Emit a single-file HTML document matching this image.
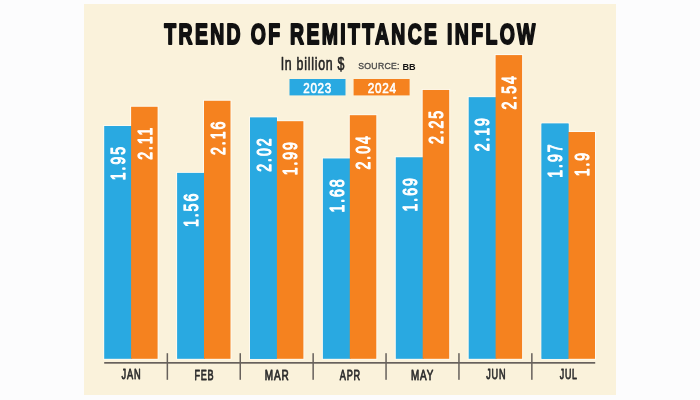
<!DOCTYPE html>
<html><head><meta charset="utf-8"><style>
html,body{margin:0;padding:0;background:#fcfcfd;width:700px;height:400px;overflow:hidden}
svg{display:block;filter:blur(0.3px);font-family:"Liberation Sans",sans-serif}
</style></head><body>
<svg width="700" height="400" viewBox="0 0 700 400">
<rect x="84" y="4" width="532" height="391" fill="#faf2db"/>
<text transform="matrix(0.5881 0 0 0.8941 164.34 44.06)" font-size="33" font-weight="bold" letter-spacing="4" fill="#111" stroke="#111" stroke-width="2.2" stroke-linejoin="round">TREND OF REMITTANCE INFLOW</text>
<text transform="matrix(0.7281 0 0 1.1018 280.69 69.85)" font-size="17" font-weight="normal" letter-spacing="1" fill="#222" stroke="#222" stroke-width="0.6" stroke-linejoin="round">In billion $</text>
<text transform="matrix(0.9643 0 0 0.9333 358.26 69.27)" font-size="9" font-weight="normal" letter-spacing="0.3" fill="#4a4a4a" stroke="#4a4a4a" stroke-width="0.35" stroke-linejoin="round">SOURCE:</text>
<text transform="matrix(1.0167 0 0 1.0080 402.49 69.50)" font-size="9" font-weight="bold" letter-spacing="0" fill="#111">BB</text>
<text transform="matrix(0.6584 0 0 0.9905 121.56 379.30)" font-size="14" font-weight="normal" letter-spacing="1.2" fill="#2d2d2d" stroke="#2d2d2d" stroke-width="0.8" stroke-linejoin="round">JAN</text>
<text transform="matrix(0.6491 0 0 1.0146 194.41 379.55)" font-size="14" font-weight="normal" letter-spacing="1.2" fill="#2d2d2d" stroke="#2d2d2d" stroke-width="0.8" stroke-linejoin="round">FEB</text>
<text transform="matrix(0.7138 0 0 1.0146 264.76 379.55)" font-size="14" font-weight="normal" letter-spacing="1.2" fill="#2d2d2d" stroke="#2d2d2d" stroke-width="0.8" stroke-linejoin="round">MAR</text>
<text transform="matrix(0.6528 0 0 1.0146 339.86 379.55)" font-size="14" font-weight="normal" letter-spacing="1.2" fill="#2d2d2d" stroke="#2d2d2d" stroke-width="0.8" stroke-linejoin="round">APR</text>
<text transform="matrix(0.7032 0 0 1.0146 411.07 379.55)" font-size="14" font-weight="normal" letter-spacing="1.2" fill="#2d2d2d" stroke="#2d2d2d" stroke-width="0.8" stroke-linejoin="round">MAY</text>
<text transform="matrix(0.6483 0 0 0.9905 486.26 379.30)" font-size="14" font-weight="normal" letter-spacing="1.2" fill="#2d2d2d" stroke="#2d2d2d" stroke-width="0.8" stroke-linejoin="round">JUN</text>
<text transform="matrix(0.6327 0 0 0.9905 559.76 379.30)" font-size="14" font-weight="normal" letter-spacing="1.2" fill="#2d2d2d" stroke="#2d2d2d" stroke-width="0.8" stroke-linejoin="round">JUL</text>
<rect x="289.5" y="79" width="56" height="16.4" fill="#29a9e1"/>
<rect x="353.6" y="79" width="56" height="16.4" fill="#f5821f"/>
<text transform="matrix(0.7258 0 0 0.9167 303.24 92.54)" font-size="16" font-weight="normal" letter-spacing="1" fill="#fff" stroke="#fff" stroke-width="0.7" stroke-linejoin="round">2023</text>
<text transform="matrix(0.7368 0 0 0.9167 367.63 92.54)" font-size="16" font-weight="normal" letter-spacing="1" fill="#fff" stroke="#fff" stroke-width="0.7" stroke-linejoin="round">2024</text>
<path d="M103.20,358.80V125.01H130.10V105.78H158.60V359.80H103.20Z" fill="#fdfaf0"/>
<rect x="104.20" y="126.01" width="27.9" height="232.79" fill="#29a9e1"/>
<rect x="131.10" y="106.78" width="26.5" height="252.02" fill="#f5821f"/>
<text transform="translate(124.97,180.16) rotate(-90) scale(0.6545,0.9091)" font-size="21.5" font-weight="normal" letter-spacing="3" stroke="#fff" stroke-width="1.3" stroke-linejoin="round" fill="#fff">1.95</text>
<text transform="translate(151.89,159.79) rotate(-90) scale(0.6545,0.9231)" font-size="21.5" font-weight="normal" letter-spacing="3" stroke="#fff" stroke-width="1.3" stroke-linejoin="round" fill="#fff">2.11</text>
<path d="M176.10,358.80V171.89H203.00V99.77H231.50V359.80H176.10Z" fill="#fdfaf0"/>
<rect x="177.10" y="172.89" width="27.9" height="185.91" fill="#29a9e1"/>
<rect x="204.00" y="100.77" width="26.5" height="258.03" fill="#f5821f"/>
<text transform="translate(197.87,227.04) rotate(-90) scale(0.6545,0.9091)" font-size="21.5" font-weight="normal" letter-spacing="3" stroke="#fff" stroke-width="1.3" stroke-linejoin="round" fill="#fff">1.56</text>
<text transform="translate(224.57,154.92) rotate(-90) scale(0.6545,0.9091)" font-size="21.5" font-weight="normal" letter-spacing="3" stroke="#fff" stroke-width="1.3" stroke-linejoin="round" fill="#fff">2.16</text>
<rect x="166.60" y="353.2" width="1.5" height="26.6" fill="#67615c"/>
<path d="M249.00,358.80V116.60H277.90V120.20H304.40V359.80H249.00Z" fill="#fdfaf0"/>
<rect x="250.00" y="117.60" width="26.9" height="241.20" fill="#29a9e1"/>
<rect x="275.90" y="121.20" width="27.5" height="237.60" fill="#f5821f"/>
<rect x="250.00" y="117.60" width="26.9" height="241.20" fill="#29a9e1"/>
<text transform="translate(270.77,171.75) rotate(-90) scale(0.6545,0.9091)" font-size="21.5" font-weight="normal" letter-spacing="3" stroke="#fff" stroke-width="1.3" stroke-linejoin="round" fill="#fff">2.02</text>
<text transform="translate(297.47,175.36) rotate(-90) scale(0.6545,0.9091)" font-size="21.5" font-weight="normal" letter-spacing="3" stroke="#fff" stroke-width="1.3" stroke-linejoin="round" fill="#fff">1.99</text>
<rect x="239.50" y="353.2" width="1.5" height="26.6" fill="#67615c"/>
<path d="M321.90,358.80V157.46H348.80V114.19H377.30V359.80H321.90Z" fill="#fdfaf0"/>
<rect x="322.90" y="158.46" width="27.9" height="200.34" fill="#29a9e1"/>
<rect x="349.80" y="115.19" width="26.5" height="243.61" fill="#f5821f"/>
<text transform="translate(343.67,212.62) rotate(-90) scale(0.6545,0.9091)" font-size="21.5" font-weight="normal" letter-spacing="3" stroke="#fff" stroke-width="1.3" stroke-linejoin="round" fill="#fff">1.68</text>
<text transform="translate(370.37,169.51) rotate(-90) scale(0.6545,0.9091)" font-size="21.5" font-weight="normal" letter-spacing="3" stroke="#fff" stroke-width="1.3" stroke-linejoin="round" fill="#fff">2.04</text>
<rect x="312.40" y="353.2" width="1.5" height="26.6" fill="#67615c"/>
<path d="M394.80,358.80V156.26H421.70V88.95H450.20V359.80H394.80Z" fill="#fdfaf0"/>
<rect x="395.80" y="157.26" width="27.9" height="201.54" fill="#29a9e1"/>
<rect x="422.70" y="89.95" width="26.5" height="268.85" fill="#f5821f"/>
<text transform="translate(416.57,211.42) rotate(-90) scale(0.6545,0.9091)" font-size="21.5" font-weight="normal" letter-spacing="3" stroke="#fff" stroke-width="1.3" stroke-linejoin="round" fill="#fff">1.69</text>
<text transform="translate(443.27,144.10) rotate(-90) scale(0.6545,0.9091)" font-size="21.5" font-weight="normal" letter-spacing="3" stroke="#fff" stroke-width="1.3" stroke-linejoin="round" fill="#fff">2.25</text>
<rect x="385.30" y="353.2" width="1.5" height="26.6" fill="#67615c"/>
<path d="M467.70,358.80V96.16H494.60V54.09H523.10V359.80H467.70Z" fill="#fdfaf0"/>
<rect x="468.70" y="97.16" width="27.9" height="261.64" fill="#29a9e1"/>
<rect x="495.60" y="55.09" width="26.5" height="303.71" fill="#f5821f"/>
<text transform="translate(489.47,151.32) rotate(-90) scale(0.6545,0.9091)" font-size="21.5" font-weight="normal" letter-spacing="3" stroke="#fff" stroke-width="1.3" stroke-linejoin="round" fill="#fff">2.19</text>
<text transform="translate(516.17,109.41) rotate(-90) scale(0.6545,0.9091)" font-size="21.5" font-weight="normal" letter-spacing="3" stroke="#fff" stroke-width="1.3" stroke-linejoin="round" fill="#fff">2.54</text>
<rect x="458.20" y="353.2" width="1.5" height="26.6" fill="#67615c"/>
<path d="M540.60,358.80V122.61H569.50V131.02H596.00V359.80H540.60Z" fill="#fdfaf0"/>
<rect x="541.60" y="123.61" width="26.9" height="235.19" fill="#29a9e1"/>
<rect x="567.50" y="132.02" width="27.5" height="226.78" fill="#f5821f"/>
<rect x="541.60" y="123.61" width="26.9" height="235.19" fill="#29a9e1"/>
<text transform="translate(562.37,177.76) rotate(-90) scale(0.6545,0.9091)" font-size="21.5" font-weight="normal" letter-spacing="3" stroke="#fff" stroke-width="1.3" stroke-linejoin="round" fill="#fff">1.97</text>
<text transform="translate(589.07,176.36) rotate(-90) scale(0.6545,0.9091)" font-size="21.5" font-weight="normal" letter-spacing="3" stroke="#fff" stroke-width="1.3" stroke-linejoin="round" fill="#fff">1.9</text>
<rect x="531.10" y="353.2" width="1.5" height="26.6" fill="#67615c"/>
<rect x="104.2" y="362" width="491" height="1.7" fill="#67615c"/>
</svg>
</body></html>
